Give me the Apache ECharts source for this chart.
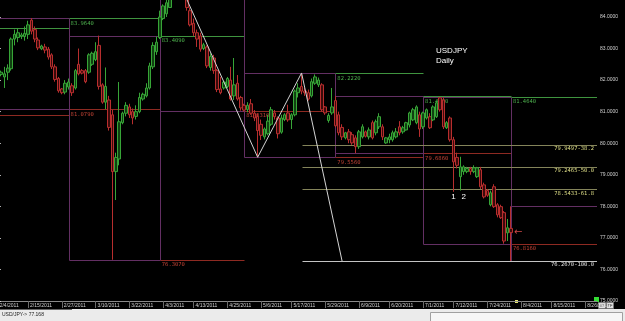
<!DOCTYPE html>
<html>
<head>
<meta charset="utf-8">
<script src="https://cdn.jsdelivr.net/npm/echarts@6/dist/echarts.min.js"></script>
<style>
html, body { margin: 0; padding: 0; background: #000; }
#chart { width: 625px; height: 321px; }
</style>
</head>
<body>
<div id="chart"></div>
<script>
// bars run Sunday..Friday, no Saturday
var startDate = '2011-02-04';
var endDate = '2011-08-30';

var tickDates = ['2/4/2011', '2/15/2011', '2/27/2011', '3/10/2011', '3/22/2011', '4/3/2011', '4/13/2011',
  '4/25/2011', '5/6/2011', '5/17/2011', '5/29/2011', '6/9/2011', '6/20/2011', '7/1/2011', '7/12/2011',
  '7/24/2011', '8/4/2011', '8/15/2011', '8/26/2011'];

// [open, close, low, high]
var febBars = [
  [81.60, 82.38, 81.079, 82.54], [82.18, 82.25, 82.12, 82.30], [82.10, 82.20, 81.75, 82.42],
  [82.25, 82.38, 82.00, 82.50], [82.36, 83.30, 82.30, 83.35], [83.30, 83.45, 83.10, 83.60],
  [83.35, 83.50, 83.20, 83.65], [83.38, 83.43, 83.30, 83.50], [83.38, 83.48, 83.25, 83.70],
  [83.45, 83.75, 83.30, 83.88], [83.90, 83.55, 83.45, 83.964], [83.60, 83.30, 83.20, 83.70],
  [83.27, 83.02, 82.95, 83.35], [82.99, 83.08, 82.95, 83.12], [83.05, 82.95, 82.85, 83.15],
  [82.98, 82.73, 82.65, 83.05], [82.80, 82.42, 82.35, 82.85], [82.42, 82.02, 81.95, 82.50],
  [82.05, 81.66, 81.60, 82.10], [81.72, 81.60, 81.55, 81.75], [81.62, 81.90, 81.55, 82.00]
];
var marBars = [
  [81.78, 81.94, 81.70, 82.05], [81.82, 81.60, 81.50, 81.90], [81.75, 82.30, 81.70, 82.35],
  [82.50, 82.20, 82.15, 83.00], [82.30, 82.22, 82.18, 82.35], [82.30, 81.95, 81.90, 82.35],
  [82.25, 82.80, 82.20, 82.85], [82.50, 82.85, 82.45, 82.90], [82.65, 82.90, 82.60, 83.20],
  [83.10, 81.80, 81.70, 83.409], [81.85, 81.30, 81.25, 81.90], [81.30, 81.80, 81.08, 82.40],
  [81.37, 80.50, 80.40, 81.50], [80.90, 79.10, 76.307, 81.06], [79.10, 79.55, 78.20, 79.70],
  [79.50, 80.68, 79.30, 81.94], [80.65, 80.95, 80.60, 81.00], [80.95, 81.20, 80.85, 81.30],
  [81.15, 80.90, 80.80, 81.25], [81.00, 80.80, 80.60, 81.10], [80.85, 81.00, 80.75, 81.20],
  [81.00, 81.45, 80.95, 81.60], [81.40, 81.55, 81.35, 81.60], [81.50, 81.75, 81.45, 81.90],
  [81.75, 82.45, 81.70, 82.55], [82.42, 83.10, 82.35, 83.20], [82.90, 83.20, 82.80, 83.38]
];
var aprBars = [
  [83.35, 84.00, 83.30, 84.20], [83.95, 84.35, 83.90, 84.40], [84.10, 84.45, 84.00, 84.55],
  [84.30, 85.20, 84.30, 85.40], [85.20, 85.30, 84.90, 85.515], [85.30, 84.90, 84.60, 85.50],
  [84.90, 84.80, 84.60, 85.30], [84.80, 84.75, 84.65, 84.85], [84.80, 84.30, 84.20, 85.00],
  [84.20, 83.75, 83.70, 84.30], [83.80, 83.50, 83.40, 83.95], [83.50, 83.30, 83.05, 83.60],
  [83.40, 82.98, 82.90, 83.50], [83.00, 83.12, 82.95, 83.18], [83.05, 82.45, 82.38, 83.10],
  [82.40, 82.75, 82.30, 82.85], [82.70, 82.30, 82.20, 82.80], [82.30, 81.70, 81.62, 82.35],
  [81.72, 81.60, 81.55, 82.10], [81.75, 81.94, 81.70, 81.98], [81.80, 82.05, 81.75, 82.10],
  [82.00, 81.40, 81.35, 82.42], [81.50, 81.85, 81.37, 82.70], [81.90, 81.40, 81.35, 82.16],
  [81.45, 81.12, 81.031, 81.50]
];
var mayBars = [
  [81.20, 81.05, 81.00, 81.25], [81.07, 81.20, 80.98, 81.30], [81.25, 80.95, 80.90, 81.40],
  [80.95, 80.80, 80.70, 81.05], [80.85, 80.40, 79.556, 80.95], [80.60, 80.25, 80.10, 80.75],
  [80.20, 80.45, 80.12, 80.50], [80.30, 80.70, 80.25, 80.90], [80.60, 81.06, 80.55, 81.15],
  [80.96, 80.84, 80.75, 81.05], [80.80, 80.30, 80.15, 80.85], [80.35, 80.80, 80.30, 80.90],
  [80.75, 80.90, 80.70, 80.95], [80.96, 80.74, 80.68, 81.22], [80.75, 80.90, 80.45, 80.95],
  [80.90, 81.65, 80.85, 81.70], [81.60, 81.75, 81.45, 81.90], [81.80, 81.65, 81.55, 82.222],
  [81.65, 81.60, 81.50, 81.75], [81.60, 81.40, 81.35, 81.70], [81.50, 81.95, 81.45, 82.05],
  [81.90, 82.10, 81.85, 82.18], [81.85, 82.00, 81.78, 82.08], [81.85, 81.06, 81.00, 81.90],
  [81.15, 80.96, 80.90, 81.18], [80.72, 80.88, 80.65, 80.95], [80.96, 81.15, 80.90, 81.75]
];
var junBars = [
  [81.35, 80.55, 80.50, 81.493], [80.90, 80.33, 80.25, 81.00], [80.50, 80.20, 80.10, 80.60],
  [80.17, 80.33, 80.12, 80.36], [80.36, 80.11, 80.00, 80.45], [80.27, 80.01, 79.95, 80.35],
  [80.17, 79.89, 79.686, 80.25], [79.89, 80.36, 79.82, 80.42], [80.20, 80.52, 80.15, 80.60],
  [80.36, 80.22, 80.18, 80.40], [80.20, 80.42, 80.12, 80.50], [80.65, 80.17, 80.12, 80.72],
  [80.33, 80.68, 80.25, 80.75], [80.52, 80.84, 80.45, 80.95], [80.52, 80.20, 80.10, 80.60],
  [80.01, 80.17, 79.98, 80.20], [80.11, 80.20, 80.00, 80.30], [80.11, 80.33, 80.05, 80.40],
  [80.20, 80.36, 80.15, 80.48], [80.52, 80.33, 80.25, 80.70], [80.36, 80.49, 80.30, 80.55],
  [80.42, 80.65, 80.40, 80.68], [80.58, 80.96, 80.50, 81.00], [80.74, 81.06, 80.70, 81.12],
  [80.65, 81.15, 80.60, 81.20], [80.90, 80.45, 80.20, 81.00]
];
var julBars = [
  [80.52, 80.96, 80.45, 81.00], [80.80, 81.06, 80.75, 81.10], [80.84, 80.49, 80.45, 80.95],
  [80.74, 81.15, 80.70, 81.20], [80.84, 81.28, 80.80, 81.35], [81.44, 81.06, 81.00, 81.464],
  [81.37, 80.52, 80.45, 81.45], [80.49, 80.65, 80.45, 80.70], [80.80, 80.11, 80.05, 80.85],
  [80.11, 79.41, 78.46, 80.20], [79.55, 79.30, 79.20, 79.70], [78.94, 79.25, 78.50, 79.57],
  [79.10, 79.25, 79.00, 79.30], [79.10, 79.20, 79.05, 79.25], [79.20, 79.10, 79.00, 79.25],
  [79.10, 79.22, 79.05, 79.30], [78.94, 79.22, 78.90, 79.25], [79.16, 78.62, 78.55, 79.25],
  [78.68, 78.30, 78.25, 78.75], [78.50, 78.35, 78.30, 78.55], [78.05, 78.43, 78.00, 78.50],
  [78.62, 77.99, 77.95, 78.70], [78.05, 77.73, 77.65, 78.10], [77.99, 77.64, 77.60, 78.05],
  [77.80, 76.90, 76.816, 77.85], [77.16, 77.32, 76.90, 77.60]
];
var augBars = [
  [77.30, 77.168, 76.27, 78.00]
];

// January range, shown over February
var janHigh = 83.65;
var janLow = 80.90;

// swing A-B-C-D
var zigzag = [['4/6/2011', 85.515], ['5/5/2011', 79.556], ['5/20/2011', 82.226], ['6/3/2011', 76.267]];
var fibStart = '5/20/2011';
var fibHigh = 82.226;
var fibLow = 76.267;
var fibRatios = [0.382, 0.5, 0.618, 1.0];

var countMarks = [['1', '7/12/2011', 78.3], ['2', '7/15/2011', 78.3]];

// ---- build categories
var categories = [];
var dt = new Date(startDate + 'T00:00:00Z');
var stop = new Date(endDate + 'T00:00:00Z');
while (dt <= stop) {
  if (dt.getUTCDay() !== 6) {
    categories.push((dt.getUTCMonth() + 1) + '/' + dt.getUTCDate() + '/' + dt.getUTCFullYear());
  }
  dt = new Date(dt.getTime() + 86400000);
}
var N = categories.length;
var rightEnd = N - 0.5;
var tickSet = {};
tickDates.forEach(function (t) { tickSet[t] = true; });

var bars = febBars.concat(marBars, aprBars, mayBars, junBars, julBars, augBars);
var lastClose = bars[bars.length - 1][1];

// monthly ranges
var months = [];
bars.forEach(function (b, i) {
  var m = +categories[i].split('/')[0];
  var cur = months[months.length - 1];
  if (!cur || cur.m !== m) {
    cur = { m: m, start: i, hi: -Infinity, lo: Infinity };
    months.push(cur);
  }
  cur.hi = Math.max(cur.hi, b[3]);
  cur.lo = Math.min(cur.lo, b[2]);
});

var YMIN = 75, YMAX = 84.538;
var lineColors = ['#632f63', '#3f943f', '#8e2a22', '#84845a', '#c4c4c4'];
var segments = [];
var textItems = [];
var levelFont = '5.5px "DejaVu Sans Mono"';

months.forEach(function (mo, k) {
  var left = k === 0 ? -1 : mo.start;
  var right = k < months.length - 1 ? months[k + 1].start : rightEnd;
  var prevHi = k === 0 ? janHigh : months[k - 1].hi;
  var prevLo = k === 0 ? janLow : months[k - 1].lo;
  segments.push([left, prevHi, right, prevHi, 1]);
  segments.push([left, prevLo, right, prevLo, 2]);
  segments.push([left, mo.hi, right, mo.hi, 0]);
  segments.push([left, mo.lo, right, mo.lo, 0]);
  segments.push([left, mo.hi, left, mo.lo, 0]);
  segments.push([right, mo.hi, right, mo.lo, 0]);
  if (k > 0) {
    if (prevHi < YMAX) textItems.push({ x: left, y: prevHi, text: prevHi.toFixed(4), color: '#4cae4c', dx: 2, dy: 2, align: 'left', va: 'top', font: levelFont });
    textItems.push({ x: left, y: prevLo, text: prevLo.toFixed(4), color: '#c04234', dx: 2, dy: 2, align: 'left', va: 'top', font: levelFont });
  }
});

var fibStartIdx = categories.indexOf(fibStart);
fibRatios.forEach(function (r) {
  var level = fibHigh - r * (fibHigh - fibLow);
  var full = r === 1;
  segments.push([fibStartIdx, level, rightEnd, level, full ? 4 : 3]);
  textItems.push({ x: rightEnd, y: level, text: level.toFixed(4) + '-' + (r * 100).toFixed(1),
    color: full ? '#e0e0e0' : '#dede86', dx: -3, dy: 1, align: 'right', va: 'top', font: levelFont });
});

countMarks.forEach(function (c) {
  textItems.push({ x: categories.indexOf(c[1]), y: c[2], text: c[0], color: '#ffffff', dx: 0, dy: 0,
    align: 'center', va: 'middle', font: '8px "Liberation Sans"' });
});
textItems.push({ x: bars.length - 1, y: lastClose, text: '\u2190', color: '#d04848', dx: 3, dy: 0,
  align: 'left', va: 'middle', font: '10px "DejaVu Sans"' });

var zigData = zigzag.map(function (p) { return [categories.indexOf(p[0]), p[1]]; });

function snap(v) { return Math.round(v) + 0.5; }

var myChart = echarts.init(document.getElementById('chart'));
myChart.setOption({
  backgroundColor: '#000',
  animation: false,
  title: {
    text: 'USDJPY\nDaily',
    left: 436, top: 46, padding: 0,
    textStyle: { color: '#fff', fontSize: 8, fontWeight: 'normal', fontFamily: 'Liberation Sans', lineHeight: 10 }
  },
  grid: { left: -4, right: 28, top: 0, bottom: 20, containLabel: false, outerBoundsMode: 'none' },
  xAxis: [{
    type: 'category',
    data: categories,
    boundaryGap: true,
    axisLine: { show: true, lineStyle: { color: '#8a8a8a', width: 1 } },
    axisTick: {
      show: true, alignWithLabel: true, length: 7,
      interval: function (i, v) { return !!tickSet[v]; },
      lineStyle: { color: '#6a6a6a' }
    },
    axisLabel: {
      interval: function (i, v) { return !!tickSet[v]; },
      color: '#d0d0d0', fontSize: 5, fontFamily: 'Liberation Sans',
      align: 'left', margin: 2, padding: [0, 0, 0, 2]
    },
    splitLine: { show: false }
  }, {
    type: 'value',
    min: -0.5,
    max: rightEnd,
    show: false
  }],
  yAxis: {
    type: 'value',
    position: 'right',
    min: YMIN,
    max: YMAX,
    interval: 1,
    axisLine: { show: true, lineStyle: { color: '#ffffff', width: 1 } },
    axisTick: { show: true, length: 3, lineStyle: { color: '#ffffff' } },
    axisLabel: {
      color: '#d0d0d0', fontSize: 5, fontFamily: 'Liberation Sans', margin: 3,
      showMaxLabel: false,
      formatter: function (v) { return v.toFixed(4); }
    },
    splitLine: { show: false }
  },
  series: [{
    type: 'custom',
    name: 'levels',
    xAxisIndex: 1,
    z: 1,
    clip: true,
    silent: true,
    encode: { x: [0, 2], y: [1, 3] },
    data: segments,
    renderItem: function (params, api) {
      var p1 = api.coord([api.value(0), api.value(1)]);
      var p2 = api.coord([api.value(2), api.value(3)]);
      return {
        type: 'line',
        shape: { x1: snap(p1[0]), y1: snap(p1[1]), x2: snap(p2[0]), y2: snap(p2[1]) },
        style: { stroke: lineColors[api.value(4)], lineWidth: 1 }
      };
    }
  }, {
    type: 'custom',
    name: 'labels',
    xAxisIndex: 1,
    z: 2,
    clip: true,
    silent: true,
    encode: { x: 0, y: 1 },
    data: textItems.map(function (t) { return [t.x, t.y]; }),
    renderItem: function (params, api) {
      var t = textItems[params.dataIndex];
      var p = api.coord([api.value(0), api.value(1)]);
      return {
        type: 'text',
        x: p[0] + t.dx,
        y: p[1] + t.dy,
        style: { text: t.text, fill: t.color, font: t.font, align: t.align, verticalAlign: t.va }
      };
    }
  }, {
    type: 'candlestick',
    name: 'USDJPY',
    z: 3,
    barWidth: 3,
    data: bars,
    itemStyle: {
      color: '#114011', color0: '#3a0b0b',
      borderColor: '#37a537', borderColor0: '#b82e2e', borderWidth: 1
    },
    markLine: {
      silent: true,
      symbol: ['none', 'none'],
      lineStyle: { opacity: 0 },
      data: [{ yAxis: lastClose }],
      label: {
        show: true, position: 'end', distance: 0,
        formatter: lastClose.toFixed(4),
        color: '#000', backgroundColor: '#ffffff', fontSize: 5, fontFamily: 'Liberation Sans',
        padding: [2, 3, 2, 2]
      }
    }
  }, {
    type: 'line',
    name: 'swing',
    xAxisIndex: 1,
    z: 5,
    silent: true,
    symbol: 'none',
    data: zigData,
    lineStyle: { color: '#d4d4d4', width: 1 }
  }],
  graphic: [
    { type: 'rect', shape: { x: 0, y: 309, width: 625, height: 12 }, style: { fill: '#ebebeb' }, silent: true },
    { type: 'line', shape: { x1: 0, y1: 309.5, x2: 72, y2: 309.5 }, style: { stroke: '#666', lineWidth: 1 }, silent: true },
    { type: 'text', x: 2, y: 315, style: { text: 'USD/JPY-> ' + lastClose.toFixed(3), fill: '#222', font: '5px "Liberation Sans"', verticalAlign: 'middle' }, silent: true },
    { type: 'rect', shape: { x: 430.5, y: 312.5, width: 192, height: 9 }, style: { fill: '#f6f6f6', stroke: '#a0a0a0', lineWidth: 1 }, silent: true },
    { type: 'rect', shape: { x: 594, y: 297, width: 5, height: 5 }, style: { fill: '#33dd33' }, silent: true },
    { type: 'rect', shape: { x: 515, y: 300, width: 3, height: 3 }, style: { fill: '#e8e870' }, silent: true },
    { type: 'rect', shape: { x: 598.5, y: 302.5, width: 7, height: 6 }, style: { fill: '#e0e0e0', stroke: '#777' }, silent: true },
    { type: 'rect', shape: { x: 606.5, y: 302.5, width: 7, height: 6 }, style: { fill: '#e0e0e0', stroke: '#777' }, silent: true },
    { type: 'text', x: 602, y: 305.5, style: { text: '07', fill: '#222', font: '4px "Liberation Sans"', align: 'center', verticalAlign: 'middle' }, silent: true },
    { type: 'text', x: 610, y: 305.5, style: { text: 'TF', fill: '#222', font: '4px "Liberation Sans"', align: 'center', verticalAlign: 'middle' }, silent: true }
  ]
});
</script>
</body>
</html>
